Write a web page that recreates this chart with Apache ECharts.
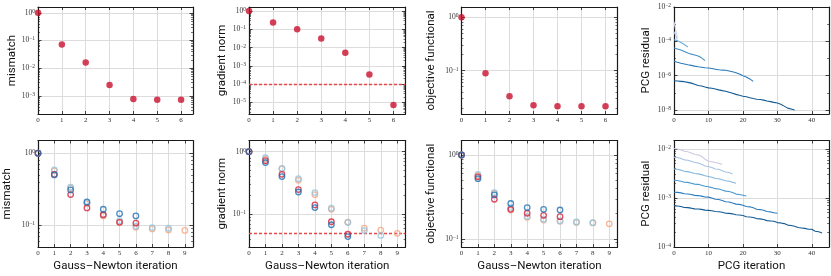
<!DOCTYPE html>
<html><head><meta charset="utf-8">
<script src="https://cdn.jsdelivr.net/npm/echarts@6/dist/echarts.min.js"></script>
<style>html,body{margin:0;padding:0;background:#fff}#c{width:831px;height:276px}</style>
</head><body><div id="c"></div><script>
// ---------------- data ----------------
const gnIterTop = [0, 1, 2, 3, 4, 5, 6];
const mismatchTop = [1, 0.0716, 0.016, 0.00245, 0.00076, 0.00072, 0.00072];
const gradNormTop = [1, 0.24, 0.1, 0.032, 0.0052, 3.4e-4, 7.1e-6];
const objectiveTop = [1, 0.089, 0.033, 0.0224, 0.0215, 0.0215, 0.0215];
const gradTolTop = 1e-4;

const pcgTop1 = [1.35e-3, 1.6e-4];
const pcgTop2 = [3.6e-4, 1.3e-4];
const pcgTop3 = [1.25e-4, 1.1e-4, 8.5e-5, 6.5e-5, 4.7e-5];
const pcgTop4 = [4.1e-5, 3.6e-5, 3.1e-5, 2.6e-5, 2.1e-5, 1.8e-5, 1.6e-5, 1.4e-5, 1.1e-5, 7.5e-6];
const pcgTop5 = [6.9e-6, 6.0e-6, 5.3e-6, 4.8e-6, 4.3e-6, 4.0e-6, 3.6e-6, 3.3e-6, 3.1e-6, 2.9e-6, 2.8e-6, 2.6e-6,
  2.4e-6, 2.2e-6, 2.1e-6, 2.06e-6, 1.9e-6, 1.7e-6, 1.5e-6, 1.25e-6, 1.0e-6, 8.5e-7, 6.5e-7, 4.7e-7];
const pcgTop6 = [5.1e-7, 4.9e-7, 4.7e-7, 4.5e-7, 4.1e-7, 3.7e-7, 3.2e-7, 2.7e-7, 2.5e-7, 2.2e-7, 1.95e-7, 1.85e-7,
  1.7e-7, 1.5e-7, 1.35e-7, 1.25e-7, 1.1e-7, 9.5e-8, 8.2e-8, 7.2e-8, 6.4e-8, 5.9e-8, 5.2e-8, 4.7e-8, 4.3e-8, 4.1e-8,
  3.8e-8, 3.4e-8, 3.1e-8, 2.8e-8, 2.6e-8, 2.2e-8, 1.7e-8, 1.3e-8, 1.15e-8, 1.0e-8];

const gnIterBottom = [0, 1, 2, 3, 4, 5, 6, 7, 8, 9];
// runs: red, salmon, light blue, blue
const mismatchRed = [1, 0.51, 0.267, 0.174, 0.14, 0.11, 0.107];
const mismatchSalmon = [1, 0.57, 0.33, 0.2, 0.135, 0.11, 0.094, 0.089, 0.086, 0.085];
const mismatchLightBlue = [1, 0.587, 0.337, 0.205, 0.14, 0.116, 0.097, 0.093, 0.091];
const mismatchBlue = [1, 0.5, 0.309, 0.211, 0.167, 0.145, 0.135];

const gradRed = [1, 0.72, 0.435, 0.248, 0.141, 0.076, 0.048];
const gradSalmon = [1, 0.77, 0.53, 0.35, 0.206, 0.12, 0.075, 0.06, 0.056, 0.0497];
const gradLightBlue = [1, 0.8, 0.54, 0.37, 0.222, 0.125, 0.0736, 0.055, 0.046];
const gradBlue = [1, 0.67, 0.4, 0.227, 0.128, 0.068, 0.044];
const gradTolBottom = 0.05;

const objRed = [1, 0.55, 0.297, 0.225, 0.202, 0.191, 0.184];
const objSalmon = [1, 0.57, 0.35, 0.221, 0.181, 0.168, 0.162, 0.157, 0.155, 0.151];
const objLightBlue = [1, 0.589, 0.356, 0.236, 0.185, 0.171, 0.164, 0.159, 0.156];
const objBlue = [1, 0.523, 0.334, 0.264, 0.236, 0.225, 0.221];

const pcgBot1 = [1.02e-2, 1.0e-2, 9.6e-3, 9.0e-3, 8.8e-3, 8.3e-3, 7.7e-3, 7.6e-3, 7.1e-3, 6.2e-3, 5.6e-3, 5.5e-3, 5.3e-3, 5.1e-3, 4.9e-3];
const pcgBot2 = [6.8e-3, 6.7e-3, 6.4e-3, 6.0e-3, 5.9e-3, 5.6e-3, 5.3e-3, 5.2e-3, 4.9e-3, 4.5e-3, 4.4e-3, 4.2e-3, 3.9e-3, 3.85e-3, 3.6e-3, 3.4e-3, 3.3e-3, 3.1e-3];
const pcgBot3 = [3.9e-3, 3.85e-3, 3.7e-3, 3.5e-3, 3.45e-3, 3.3e-3, 3.15e-3, 3.1e-3, 3.0e-3, 2.85e-3, 2.75e-3, 2.65e-3, 2.5e-3, 2.47e-3, 2.35e-3, 2.25e-3, 2.2e-3, 2.1e-3, 2.0e-3];
const pcgBot4 = [2.3e-3, 2.28e-3, 2.2e-3, 2.1e-3, 2.08e-3, 2.0e-3, 1.92e-3, 1.9e-3, 1.82e-3, 1.74e-3, 1.7e-3, 1.63e-3, 1.55e-3, 1.53e-3, 1.45e-3, 1.38e-3, 1.36e-3, 1.29e-3, 1.2e-3, 1.18e-3, 1.14e-3, 1.1e-3];
const pcgBot5 = [1.31e-3, 1.3e-3, 1.27e-3, 1.22e-3, 1.21e-3, 1.18e-3, 1.13e-3, 1.12e-3, 1.09e-3, 1.05e-3, 1.04e-3, 1.0e-3, 9.4e-4, 9.3e-4, 8.9e-4, 8.4e-4,
  8.3e-4, 7.9e-4, 7.5e-4, 7.4e-4, 7.1e-4, 6.7e-4, 6.6e-4, 6.3e-4, 5.9e-4, 5.8e-4, 5.6e-4, 5.3e-4, 5.2e-4, 5.0e-4, 4.9e-4];
const pcgBot6 = [6.9e-4, 6.85e-4, 6.7e-4, 6.4e-4, 6.35e-4, 6.2e-4, 6.0e-4, 5.95e-4, 5.85e-4, 5.65e-4, 5.6e-4, 5.5e-4, 5.3e-4, 5.25e-4, 5.1e-4,
  4.9e-4, 4.85e-4, 4.75e-4, 4.55e-4, 4.5e-4, 4.4e-4, 4.15e-4, 4.1e-4, 4.0e-4, 3.8e-4, 3.75e-4, 3.65e-4, 3.45e-4, 3.4e-4, 3.35e-4,
  3.15e-4, 3.1e-4, 3.0e-4, 2.8e-4, 2.75e-4, 2.65e-4, 2.5e-4, 2.45e-4, 2.4e-4, 2.3e-4, 2.3e-4, 2.1e-4, 2.05e-4, 1.94e-4];

const xTicksTop = [0, 1, 2, 3, 4, 5, 6];
const xTicksBottom = [0, 1, 2, 3, 4, 5, 6, 7, 8, 9];
const xTicksPcg = [0, 10, 20, 30, 40];

// ---------------- styling ----------------
const SERIF = 'Liberation Serif';
const SANS = 'Roboto';
const NAMESIZE = 11.5;
const FRAME = '#1a1a1a';
const GRIDC = '#dcdcdc';
const LABC = '#333';
const RED = '#c8102e';
const C_RED = '#d6203a', C_SALMON = '#f4a582', C_LBLUE = '#92c5de', C_BLUE = '#1f6fb2';
const TOL = '#e8474a';
const PCG_TOP_COLORS = ['#d6d6ee', '#b9c9e6', '#6baed6', '#4292c6', '#2b7bba', '#135a92'];
const PCG_BOT_COLORS = ['#cbc9e4', '#a6c3e2', '#84b6dc', '#4a99cf', '#2a7bbd', '#135a92'];

const lefts = [38, 249, 461.5, 674];
const widths = [155, 156.5, 156, 155];
const rowsPos = [{ top: 7, h: 107 }, { top: 140.5, h: 106.5 }];

const panels = [
  { r: 0, c: 0, xr: [0, 6.5], xt: xTicksTop, yr: [2.2e-4, 1.62], step: 1, name: 'mismatch', gap: 17 },
  { r: 0, c: 1, xr: [0, 6.5], xt: xTicksTop, yr: [2.3e-6, 1.68], step: 1, name: 'gradient norm', gap: 21 },
  { r: 0, c: 2, xr: [0, 6.5], xt: xTicksTop, yr: [0.0154, 1.56], step: 1, name: 'objective functional', gap: 24 },
  { r: 0, c: 3, xr: [0, 45], xt: xTicksPcg, yr: [5.9e-9, 1e-2], step: 2, name: 'PCG residual', gap: 22 },
  { r: 1, c: 0, xr: [0, 9.5], xt: xTicksBottom, yr: [0.05, 1.5], step: 1, name: 'mismatch', gap: 25, xname: 'Gauss\u2013Newton iteration' },
  { r: 1, c: 1, xr: [0, 9.5], xt: xTicksBottom, yr: [0.03, 1.51], step: 1, name: 'gradient norm', gap: 21, xname: 'Gauss\u2013Newton iteration' },
  { r: 1, c: 2, xr: [0, 9.5], xt: xTicksBottom, yr: [0.08, 1.49], step: 1, name: 'objective functional', gap: 24, xname: 'Gauss\u2013Newton iteration' },
  { r: 1, c: 3, xr: [0, 45], xt: xTicksPcg, yr: [1e-4, 0.0149], step: 1, name: 'PCG residual', gap: 22, xname: 'PCG iteration' }
];

function fmtExp(v) {
  const e = Math.round(v);
  return '{b|10}{s|' + (e < 0 ? '\u2212' + (-e) : String(e)) + '}';
}
const richLab = {
  b: { fontFamily: SERIF, fontSize: 7.5, color: LABC, lineHeight: 9 },
  s: { fontFamily: SERIF, fontSize: 5.5, color: LABC, lineHeight: 5, verticalAlign: 'top' }
};

const option = { animation: false, backgroundColor: '#fff', grid: [], xAxis: [], yAxis: [], series: [] };

panels.forEach((p, i) => {
  const rp = rowsPos[p.r];
  option.grid.push({ left: lefts[p.c], top: rp.top, width: widths[p.c], height: rp.h, outerBoundsMode: 'none', containLabel: false });
  const lineSt = { show: true, onZero: false, lineStyle: { color: FRAME, width: 1.2 } };
  p.xb = option.xAxis.length;
  option.xAxis.push({
    type: 'value', gridIndex: i, min: p.xr[0], max: p.xr[1], position: 'bottom',
    axisLine: lineSt,
    axisTick: { show: true, inside: true, length: 3, customValues: p.xt, lineStyle: { color: FRAME, width: 0.8 } },
    axisLabel: { show: true, customValues: p.xt, fontFamily: SERIF, fontSize: 7, color: LABC, margin: 3 },
    splitLine: { show: true, lineStyle: { color: GRIDC, width: 1 } },
    name: p.xname || '', nameLocation: 'middle', nameGap: 13,
    nameTextStyle: { fontFamily: SANS, fontSize: NAMESIZE, color: '#111' }
  });
  option.xAxis.push({
    type: 'value', gridIndex: i, min: p.xr[0], max: p.xr[1], position: 'top',
    axisLine: lineSt,
    axisTick: { show: true, inside: true, length: 3, customValues: p.xt, lineStyle: { color: FRAME, width: 0.8 } },
    axisLabel: { show: false }, splitLine: { show: false }
  });
  // data axis (log scale)
  p.yd = option.yAxis.length;
  option.yAxis.push({ type: 'log', gridIndex: i, min: p.yr[0], max: p.yr[1], position: 'left', show: false,
    axisLine: { onZero: false }, splitLine: { show: false } });
  // tick axes in decade space
  const l0 = Math.log10(p.yr[0]), l1 = Math.log10(p.yr[1]);
  const majors = [], minors = [];
  for (let d = Math.floor(l0); d <= Math.ceil(l1); d++) {
    if (d >= l0 - 1e-9 && d <= l1 + 1e-9) {
      if (d % p.step === 0) majors.push(d); else minors.push(d);
    }
    if (p.step === 1) {
      for (let m = 2; m <= 9; m++) {
        const v = d + Math.log10(m);
        if (v > l0 && v < l1) minors.push(v);
      }
    }
  }
  ['left', 'right'].forEach((pos) => {
    option.yAxis.push({
      type: 'value', gridIndex: i, min: l0, max: l1, position: pos,
      axisLine: lineSt,
      axisTick: { show: true, inside: true, length: 3.5, customValues: majors, lineStyle: { color: FRAME, width: 0.8 } },
      axisLabel: pos === 'left' ? { show: true, customValues: majors, formatter: fmtExp, rich: richLab, margin: 3 } : { show: false },
      splitLine: { show: pos === 'left', lineStyle: { color: GRIDC, width: 1 } },
      name: pos === 'left' ? p.name : '', nameLocation: 'middle', nameGap: p.gap,
      nameTextStyle: { fontFamily: SANS, fontSize: NAMESIZE, color: '#111' }
    });
    option.yAxis.push({
      type: 'value', gridIndex: i, min: l0, max: l1, position: pos,
      axisLine: { show: false, onZero: false },
      axisTick: { show: true, inside: true, length: 2, customValues: minors, lineStyle: { color: FRAME, width: 0.6 } },
      axisLabel: { show: false }, splitLine: { show: false }
    });
  });
});

function pairs(xs, ys) { return ys.map((v, k) => [xs[k], v]); }
function idx(arr) { return arr.map((v, k) => [k, v]); }

function filled(pi, xs, ys, extra) {
  const p = panels[pi];
  return Object.assign({ type: 'scatter', xAxisIndex: p.xb, yAxisIndex: p.yd, data: pairs(xs, ys),
    symbol: 'circle', symbolSize: 6.5, itemStyle: { color: RED }, clip: false, z: 5 }, extra || {});
}
function hollow(pi, ys, color) {
  const p = panels[pi];
  return { type: 'scatter', xAxisIndex: p.xb, yAxisIndex: p.yd, data: pairs(gnIterBottom, ys),
    symbol: 'circle', symbolSize: 5.5, clip: false, z: 5,
    itemStyle: { color: 'rgba(0,0,0,0)', borderColor: color, borderWidth: 1.3 } };
}
function tolLine(v) {
  return { symbol: 'none', silent: true, precision: 12, label: { show: false },
    lineStyle: { color: TOL, type: [3, 2], width: 1.3 }, data: [{ yAxis: v }] };
}
function pcg(pi, ys, color) {
  const p = panels[pi];
  return { type: 'line', xAxisIndex: p.xb, yAxisIndex: p.yd, data: idx(ys), showSymbol: false, symbol: 'none',
    lineStyle: { color: color, width: 1.1 }, z: 4 };
}

option.series.push(filled(0, gnIterTop, mismatchTop));
option.series.push(filled(1, gnIterTop, gradNormTop, { markLine: tolLine(gradTolTop) }));
option.series.push(filled(2, gnIterTop, objectiveTop));
[pcgTop1, pcgTop2, pcgTop3, pcgTop4, pcgTop5, pcgTop6].forEach((s, k) => option.series.push(pcg(3, s, PCG_TOP_COLORS[k])));

const runs = [
  [mismatchSalmon, gradSalmon, objSalmon, C_SALMON],
  [mismatchLightBlue, gradLightBlue, objLightBlue, C_LBLUE],
  [mismatchRed, gradRed, objRed, C_RED],
  [mismatchBlue, gradBlue, objBlue, C_BLUE]
];
runs.forEach((r) => {
  option.series.push(hollow(4, r[0], r[3]));
  option.series.push(hollow(5, r[1], r[3]));
  option.series.push(hollow(6, r[2], r[3]));
});
option.series[option.series.length - 2].markLine = tolLine(gradTolBottom);
[pcgBot1, pcgBot2, pcgBot3, pcgBot4, pcgBot5, pcgBot6].forEach((s, k) => option.series.push(pcg(7, s, PCG_BOT_COLORS[k])));

const chart = echarts.init(document.getElementById('c'), null, { renderer: 'canvas' });
chart.setOption(option);
</script></body></html>
